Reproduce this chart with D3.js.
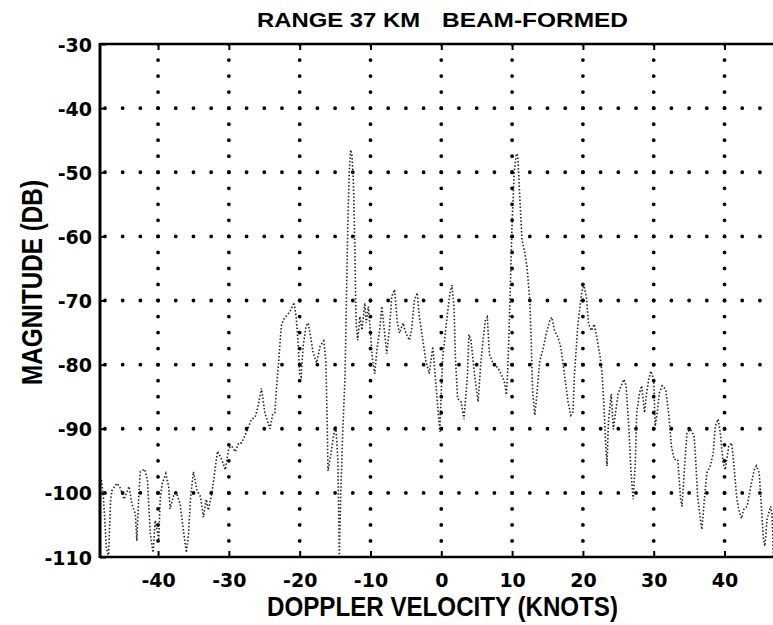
<!DOCTYPE html>
<html>
<head>
<meta charset="utf-8">
<script src="https://cdn.jsdelivr.net/npm/d3@7"></script>
<style>
html,body{margin:0;padding:0;background:#fff}
svg{display:block}
</style>
</head>
<body>
<svg id="chart" width="773" height="625"></svg>
<script>
// values
let velocity=[-48.0,-47.7,-47.3,-47.0,-46.7,-46.5,-45.8,-45.3,-44.8,-44.1,-43.7,-43.2,-43.0,-42.7,-42.5,-41.9,-41.5,-41.1,-40.7,-40.4,
-39.9,-39.7,-39.4,-38.9,-38.5,-38.3,-37.8,-37.4,-36.9,-36.4,-36.0,-35.7,-35.4,-35.0,-34.5,-34.0,-33.6,-33.2,-32.9,-32.4,
-31.9,-31.6,-31.0,-30.5,-30.0,-29.6,-29.1,-28.6,-28.2,-27.7,-27.3,-26.8,-26.3,-25.9,-25.4,-24.9,-24.2,-23.8,-23.5,-23.3,
-23.0,-22.6,-22.3,-21.8,-21.4,-20.8,-20.5,-20.2,-20.0,-19.8,-19.5,-19.1,-18.8,-18.4,-18.1,-17.6,-17.1,-16.6,-16.3,-16.1,
-16.0,-15.6,-15.2,-14.9,-14.6,-14.4,-14.2,-13.9,-13.6,-13.4,-13.2,-13.0,-12.8,-12.6,-12.4,-12.2,-12.1,-12.0,-11.8,-11.5,
-11.2,-10.8,-10.6,-10.3,-10.0,-9.7,-9.4,-9.1,-8.7,-8.4,-8.0,-7.7,-7.3,-7.0,-6.6,-6.2,-5.9,-5.4,-5.0,-4.5,
-4.2,-3.8,-3.4,-3.1,-2.6,-2.2,-1.7,-1.2,-0.8,-0.5,-0.2,0.0,0.2,0.7,1.2,1.5,1.8,2.0,2.3,2.8,
3.2,3.7,3.9,4.2,4.7,5.2,5.6,5.9,6.2,6.5,6.8,7.2,7.5,8.0,8.5,8.9,9.2,9.4,9.6,9.8,
10.0,10.3,10.6,10.8,11.1,11.4,11.8,12.1,12.5,12.7,12.9,13.2,13.4,13.9,14.4,14.8,15.3,15.6,16.0,16.5,
16.9,17.4,17.9,18.3,18.6,18.8,19.3,19.8,20.1,20.5,20.8,21.2,21.6,22.0,22.4,22.7,23.0,23.2,23.4,23.6,
24.0,24.3,24.6,25.0,25.4,25.8,26.1,26.5,26.8,27.1,27.4,27.6,28.0,28.3,28.7,29.0,29.3,29.6,30.0,30.2,
30.5,30.8,31.2,31.7,32.1,32.5,32.9,33.4,33.8,34.0,34.3,34.7,35.2,35.7,35.9,36.2,36.6,36.8,37.2,37.5,
38.0,38.4,38.7,39.1,39.4,39.8,40.1,40.6,41.0,41.3,41.7,42.0,42.4,42.7,43.2,43.7,44.2,44.5,44.9,45.2,
45.5,45.7,46.0,46.5,46.7,46.9]
let magnitude=[-98,-101,-108.5,-110,-101,-99.6,-98.5,-99.3,-101,-99,-101.7,-103.3,-107.5,-100,-96.7,-96.3,-98,-106.4,-109.3,-104.3,
-107.2,-101,-98.5,-97,-99,-102.5,-100.4,-100,-101.7,-106,-109.3,-106.4,-100.6,-96.7,-99.6,-100.6,-103.8,-101,-102.7,-100.1,
-95.9,-93.5,-94.8,-96.4,-93,-92.7,-93.6,-92.2,-92.2,-91,-89.9,-88.5,-88.2,-86.6,-83.7,-87.6,-90,-87.7,-87.5,-84,
-80,-74,-73,-72.3,-71.8,-70.3,-72.5,-77,-81.6,-81.9,-77,-74,-73.5,-76,-78.2,-79.7,-77.1,-76.3,-79.5,-90,
-96.6,-94,-91,-89.5,-95,-110,-100,-90,-82,-70,-58,-50,-46.5,-47.5,-52,-62,-70,-74,-76.2,-72.5,
-74.6,-70.4,-73.5,-70.9,-75.1,-79.3,-81.4,-77.7,-74.6,-70.9,-75.1,-78.3,-74.1,-69.4,-68.3,-73.5,-75.1,-73.5,-75.1,-76.2,
-74.6,-69.9,-68.8,-72.5,-76.2,-79.3,-81.4,-77.2,-82.5,-86.6,-90.5,-84,-79,-73.7,-69,-67.6,-71,-79,-85.3,-85.8,
-88.5,-81.6,-75.3,-76.3,-81.6,-85.8,-79.5,-76.3,-73.2,-72.6,-78.4,-79.5,-80,-80.5,-81.6,-82.6,-84.7,-80.5,-73.7,-65.8,
-57.9,-50,-47.1,-47.4,-54.2,-60.5,-62.6,-64.7,-70,-76.3,-84.2,-87.9,-85.8,-79.5,-77.4,-75.3,-73.2,-72.6,-74.7,-75.8,
-77.4,-81.6,-85.8,-87.9,-87.4,-81.6,-73.7,-69,-67.4,-69.5,-73.7,-74.7,-73.7,-76,-78.5,-81.3,-87,-92,-95.8,-89,
-84.6,-90.1,-87.5,-84.4,-83.3,-82.3,-83.3,-90.1,-96.9,-101,-95.3,-87.5,-84.4,-83.3,-87.5,-84.4,-82.3,-81,-82.3,-89.6,
-87.5,-84.4,-83.3,-83.9,-87.5,-92.7,-94.8,-94.8,-101,-102.1,-96.9,-90.6,-90.1,-91.1,-94.3,-100.5,-104.2,-105.7,-100.5,-96.9,
-95.8,-93.8,-89.6,-88.5,-90.6,-95.3,-96.4,-92.7,-92.2,-95.3,-100.5,-102.6,-104,-102.6,-102.1,-99,-96.4,-95.8,-96.9,-102.1,
-107.3,-108.3,-104.2,-102.1,-103.1,-110]

let xTicks=[-40,-30,-20,-10,0,10,20,30,40]
let yTicks=[-30,-40,-50,-60,-70,-80,-90,-100,-110]

let svg=d3.select("#chart")
let plotLeft=100, plotRight=773, plotTop=44, plotBottom=557

let x=d3.scaleLinear().domain([-48.2,47.2]).range([100,775.5])
let y=d3.scaleLinear().domain([-110,-30]).range([plotBottom,plotTop])

svg.append("clipPath").attr("id","plotclip")
.append("rect").attr("x",plotLeft).attr("y",plotTop)
.attr("width",plotRight-plotLeft).attr("height",plotBottom-plotTop)

let plot=svg.append("g").attr("clip-path","url(#plotclip)")

// dotted grid, one dot every quarter division
let dx=(x(10)-x(0))/4
let dy=(y(-40)-y(-30))/4

plot.selectAll(".vgrid")
.data(xTicks)
.enter()
.append("line")
.attr("x1",d=>x(d)).attr("x2",d=>x(d))
.attr("y1",y(-30)).attr("y2",y(-110))
.attr("stroke","#000").attr("stroke-width",3.8)
.attr("stroke-linecap","round")
.attr("stroke-dasharray","0,"+dy)

plot.selectAll(".hgrid")
.data(yTicks.slice(1,-1))
.enter()
.append("line")
.attr("x1",x(-50)).attr("x2",x(50))
.attr("y1",d=>y(d)).attr("y2",d=>y(d))
.attr("stroke","#000").attr("stroke-width",3.8)
.attr("stroke-linecap","round")
.attr("stroke-dasharray","0,"+dx)

// spectrum trace
let pts=velocity.map((v,i)=>[v,magnitude[i]])
let line=d3.line().x(d=>x(d[0])).y(d=>y(d[1]))

plot.append("path")
.datum(pts)
.attr("d",line)
.attr("fill","none")
.attr("stroke","#222")
.attr("stroke-width",1.6)
.attr("stroke-dasharray","1.5,2")

// frame
svg.append("line").attr("x1",plotLeft).attr("x2",plotLeft).attr("y1",plotTop-1).attr("y2",plotBottom+1)
.attr("stroke","#000").attr("stroke-width",3)
svg.append("line").attr("x1",plotLeft).attr("x2",plotRight).attr("y1",plotTop).attr("y2",plotTop)
.attr("stroke","#000").attr("stroke-width",2.5)
svg.append("line").attr("x1",plotLeft).attr("x2",plotRight).attr("y1",plotBottom).attr("y2",plotBottom)
.attr("stroke","#000").attr("stroke-width",2.5)

// axes, ticks pointing inwards; plain hyphen for the minus sign
let fmt=d=>String(d)
let ax=svg.append("g")
.attr("transform","translate(0,"+plotBottom+")")
.call(d3.axisBottom(x).tickValues(xTicks).tickSize(-6).tickPadding(16.5).tickFormat(fmt))
let at=svg.append("g")
.attr("transform","translate(0,"+plotTop+")")
.call(d3.axisTop(x).tickValues(xTicks).tickSize(-6).tickFormat(""))
let ay=svg.append("g")
.attr("transform","translate("+plotLeft+",0)")
.call(d3.axisLeft(y).tickValues(yTicks).tickSize(-6).tickPadding(8).tickFormat(fmt))

;[ax,at,ay].forEach(g=>{
g.select(".domain").remove()
g.selectAll(".tick line").attr("stroke","#000").attr("stroke-width",2)
})

svg.selectAll(".tick text")
.attr("font-family","'DejaVu Sans', sans-serif")
.attr("font-weight","bold")
.attr("font-size",19)
.attr("fill","#000")
ay.selectAll(".tick text").attr("dy","0.37em")

// titles
let labelFont="'Liberation Sans', Arial, sans-serif"

svg.append("text")
.attr("x",257).attr("y",27)
.attr("font-family",labelFont).attr("font-weight","bold").attr("font-size",21)
.attr("textLength",163).attr("lengthAdjust","spacingAndGlyphs")
.text("RANGE 37 KM")
svg.append("text")
.attr("x",442).attr("y",27)
.attr("font-family",labelFont).attr("font-weight","bold").attr("font-size",21)
.attr("textLength",186).attr("lengthAdjust","spacingAndGlyphs")
.text("BEAM-FORMED")

svg.append("text")
.attr("x",267).attr("y",616)
.attr("font-family",labelFont).attr("font-weight","bold").attr("font-size",27)
.attr("textLength",351).attr("lengthAdjust","spacingAndGlyphs")
.text("DOPPLER VELOCITY (KNOTS)")

svg.append("text")
.attr("transform","translate(42,385) rotate(-90)")
.attr("font-family",labelFont).attr("font-weight","bold").attr("font-size",30)
.attr("textLength",205).attr("lengthAdjust","spacingAndGlyphs")
.text("MAGNITUDE (DB)")
</script>
</body>
</html>
